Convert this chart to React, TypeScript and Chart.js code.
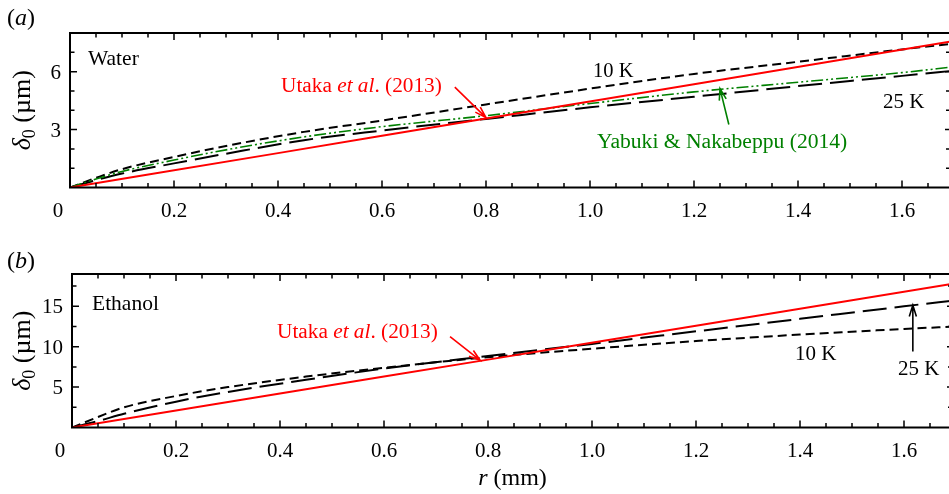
import React, { useEffect, useRef } from 'react';
import { Chart, registerables } from 'chart.js';

Chart.register(...registerables);

// ---------- data ----------
const X_MAX = 1.7;
const rGrid = [0, 0.05, 0.1, 0.2, 0.3, 0.45, 0.6, 0.8, 1.0, 1.2, 1.4, 1.6, 1.7];

// (a) Water
const water10K = [0, 0.5, 0.95, 1.58, 2.15, 2.88, 3.47, 4.3, 5.12, 5.88, 6.51, 7.15, 7.45];
const water25K = [0, 0.38, 0.72, 1.25, 1.75, 2.45, 2.95, 3.55, 4.15, 4.7, 5.25, 5.78, 6.05];
const waterYabuki = [0, 0.44, 0.83, 1.42, 1.95, 2.62, 3.15, 3.72, 4.35, 4.95, 5.45, 5.95, 6.25];
const rUtaka = [0, 0.4, 0.8, 1.2, 1.7];
const waterUtaka = [0, 1.78, 3.57, 5.35, 7.58];

// (b) Ethanol
const ethanol10K = [0, 1.3, 2.5, 3.9, 5.0, 6.3, 7.4, 8.7, 9.75, 10.7, 11.5, 12.2, 12.5];
const ethanol25K = [0, 0.8, 1.7, 3.2, 4.4, 5.9, 7.3, 8.85, 10.35, 11.9, 13.45, 15.0, 15.75];
const ethanolUtaka = [0, 4.2, 8.4, 12.6, 17.85];

// ticks
const xTickValues = [0, 0.2, 0.4, 0.6, 0.8, 1.0, 1.2, 1.4, 1.6];
const xTickLabels = ['0', '0.2', '0.4', '0.6', '0.8', '1.0', '1.2', '1.4', '1.6'];
const waterYTicks = [3, 6];
const ethanolYTicks = [5, 10, 15];

const RED = 'rgb(255,0,0)';
const GREEN = 'rgb(0,128,0)';
const FONT = '"Liberation Serif", "Times New Roman", serif';

type Part = [string, boolean];

function drawRich(ctx: CanvasRenderingContext2D, x: number, y: number, parts: Part[], size: number, color: string) {
  ctx.save();
  ctx.fillStyle = color;
  ctx.textBaseline = 'alphabetic';
  ctx.textAlign = 'left';
  let cx = x;
  for (const [t, it] of parts) {
    ctx.font = `${it ? 'italic ' : ''}${size}px ${FONT}`;
    ctx.fillText(t, cx, y);
    cx += ctx.measureText(t).width;
  }
  ctx.restore();
}

function drawArrow(ctx: CanvasRenderingContext2D, x1: number, y1: number, x2: number, y2: number, color: string) {
  const ang = Math.atan2(y2 - y1, x2 - x1);
  const hl = 12;
  const ha = 0.3;
  ctx.save();
  ctx.strokeStyle = color;
  ctx.lineWidth = 1.6;
  ctx.beginPath();
  ctx.moveTo(x1, y1);
  ctx.lineTo(x2, y2);
  ctx.moveTo(x2 - hl * Math.cos(ang - ha), y2 - hl * Math.sin(ang - ha));
  ctx.lineTo(x2, y2);
  ctx.lineTo(x2 - hl * Math.cos(ang + ha), y2 - hl * Math.sin(ang + ha));
  ctx.stroke();
  ctx.restore();
}

function series(xs: number[], ys: number[]) {
  return xs.map((x, i) => ({ x, y: ys[i] }));
}

interface PanelSpec {
  yMax: number;
  yMinorStep: number;
  yTicks: number[];
  panelLabel: string;
  panelLabelY: number;
  fluid: string;
  fluidX: number;
  fluidY: number;
  annotate: (ctx: CanvasRenderingContext2D, px: (v: number) => number, py: (v: number) => number) => void;
}

function framePlugin(spec: PanelSpec) {
  return {
    id: 'frame',
    afterDraw(chart: any) {
      const ctx: CanvasRenderingContext2D = chart.ctx;
      const { left, right, top, bottom } = chart.chartArea;
      const xs = chart.scales.x;
      const ys = chart.scales.y;
      const px = (v: number) => xs.getPixelForValue(v);
      const py = (v: number) => ys.getPixelForValue(v);
      ctx.save();
      ctx.strokeStyle = '#000';
      ctx.lineWidth = 2;
      ctx.strokeRect(left, top, right - left, bottom - top);
      ctx.lineWidth = 1.5;
      ctx.beginPath();
      // x ticks every 0.05
      for (let i = 1; i * 0.05 < X_MAX - 1e-6; i++) {
        const v = i * 0.05;
        const major = Math.abs(v / 0.2 - Math.round(v / 0.2)) < 1e-6;
        const len = major ? 7 : 4.5;
        const x = px(v);
        ctx.moveTo(x, bottom);
        ctx.lineTo(x, bottom - len);
        ctx.moveTo(x, top);
        ctx.lineTo(x, top + len);
      }
      // y ticks
      for (let i = 1; i * spec.yMinorStep < spec.yMax - 1e-6; i++) {
        const v = i * spec.yMinorStep;
        const major = spec.yTicks.some((t) => Math.abs(t - v) < 1e-6);
        const len = major ? 7 : 4.5;
        const y = py(v);
        ctx.moveTo(left, y);
        ctx.lineTo(left + len, y);
        ctx.moveTo(right, y);
        ctx.lineTo(right - (major ? 9 : 8), y);
      }
      ctx.stroke();

      // tick labels
      ctx.fillStyle = '#000';
      ctx.font = `21px ${FONT}`;
      ctx.textBaseline = 'alphabetic';
      ctx.textAlign = 'center';
      xTickValues.forEach((v, i) => {
        const x = px(v) - (v === 0 ? 12 : 0);
        ctx.fillText(xTickLabels[i], x, bottom + 29);
      });
      ctx.textAlign = 'right';
      spec.yTicks.forEach((v) => {
        ctx.fillText(String(v), left - 9, py(v) + 7);
      });

      // y title
      ctx.save();
      const cy = (top + bottom) / 2;
      ctx.translate(22, cy);
      ctx.rotate(-Math.PI / 2);
      const p1 = 'δ';
      const p2 = '0';
      const p3 = ' (µm)';
      const big = 26;
      const small = 18;
      ctx.font = `italic ${big}px ${FONT}`;
      const w1 = ctx.measureText(p1).width;
      ctx.font = `${small}px ${FONT}`;
      const w2 = ctx.measureText(p2).width;
      ctx.font = `${big}px ${FONT}`;
      const w3 = ctx.measureText(p3).width;
      const total = w1 + w2 + w3;
      let sx = -total / 2;
      ctx.textAlign = 'left';
      ctx.font = `italic ${big}px ${FONT}`;
      ctx.fillText(p1, sx, 8);
      sx += w1;
      ctx.font = `${small}px ${FONT}`;
      ctx.fillText(p2, sx, 13);
      sx += w2;
      ctx.font = `${big}px ${FONT}`;
      ctx.fillText(p3, sx, 8);
      ctx.restore();

      // panel label
      drawRich(ctx, 7, spec.panelLabelY, [['(', false], [spec.panelLabel, true], [')', false]], 24, '#000');
      // fluid name
      drawRich(ctx, spec.fluidX, spec.fluidY, [[spec.fluid, false]], 21.5, '#000');

      spec.annotate(ctx, px, py);
      ctx.restore();
    },
  };
}

function makeChart(canvas: HTMLCanvasElement, datasets: any[], spec: PanelSpec, padding: any) {
  return new Chart(canvas, {
    type: 'line',
    data: { datasets },
    options: {
      responsive: false,
      animation: false,
      devicePixelRatio: 1,
      layout: { padding },
      plugins: { legend: { display: false }, tooltip: { enabled: false } },
      elements: { point: { radius: 0 } },
      scales: {
        x: { type: 'linear', min: 0, max: X_MAX, display: false },
        y: { type: 'linear', min: 0, max: spec.yMax, display: false },
      },
    },
    plugins: [framePlugin(spec)],
  } as any);
}

const dash10 = [9, 5];
const dash25 = [24, 8];
const dashYabuki = [12, 3, 2, 3, 2, 3];

export default function App() {
  const refA = useRef<HTMLCanvasElement>(null);
  const refB = useRef<HTMLCanvasElement>(null);

  useEffect(() => {
    const common = { pointRadius: 0, fill: false, cubicInterpolationMode: 'monotone' };
    const specA: PanelSpec = {
      yMax: 8,
      yMinorStep: 1,
      yTicks: waterYTicks,
      panelLabel: 'a',
      panelLabelY: 25,
      fluid: 'Water',
      fluidX: 88,
      fluidY: 65,
      annotate: (ctx, px, py) => {
        drawRich(ctx, 593, 77, [['10 K', false]], 20.5, '#000');
        drawRich(ctx, 281, 92, [['Utaka ', false], ['et al', true], ['. (2013)', false]], 21.3, RED);
        drawArrow(ctx, px(0.74), py(5.2), px(0.8), py(3.62), RED);
        drawRich(ctx, 597, 148, [['Yabuki & Nakabeppu (2014)', false]], 21.6, GREEN);
        drawArrow(ctx, px(1.267), py(3.26), px(1.25), py(5.12), GREEN);
        drawRich(ctx, 883, 108, [['25 K', false]], 21, '#000');
      },
    };
    const chartA = makeChart(
      refA.current!,
      [
        { ...common, data: series(rUtaka, waterUtaka), borderColor: RED, borderWidth: 2 },
        { ...common, data: series(rGrid, waterYabuki), borderColor: GREEN, borderWidth: 1.6, borderDash: dashYabuki },
        { ...common, data: series(rGrid, water25K), borderColor: '#000', borderWidth: 2, borderDash: dash25 },
        { ...common, data: series(rGrid, water10K), borderColor: '#000', borderWidth: 2, borderDash: dash10 },
      ],
      specA,
      { left: 70, top: 33, right: 6, bottom: 59.5 }
    );

    const specB: PanelSpec = {
      yMax: 19,
      yMinorStep: 2.5,
      yTicks: ethanolYTicks,
      panelLabel: 'b',
      panelLabelY: 21,
      fluid: 'Ethanol',
      fluidX: 92,
      fluidY: 63,
      annotate: (ctx, px, py) => {
        drawRich(ctx, 277, 91, [['Utaka ', false], ['et al', true], ['. (2013)', false]], 21.3, RED);
        drawArrow(ctx, px(0.727), py(11.24), px(0.785), py(8.3), RED);
        drawRich(ctx, 795, 113, [['10 K', false]], 21, '#000');
        drawRich(ctx, 898, 128, [['25 K', false]], 21, '#000');
        drawArrow(ctx, px(1.617), py(9.4), px(1.617), py(15.15), '#000');
      },
    };
    const chartB = makeChart(
      refB.current!,
      [
        { ...common, data: series(rUtaka, ethanolUtaka), borderColor: RED, borderWidth: 2 },
        { ...common, data: series(rGrid, ethanol25K), borderColor: '#000', borderWidth: 2, borderDash: dash25 },
        { ...common, data: series(rGrid, ethanol10K), borderColor: '#000', borderWidth: 2, borderDash: dash10 },
      ],
      specB,
      { left: 72, top: 27, right: 4, bottom: 66.5 }
    );

    return () => {
      chartA.destroy();
      chartB.destroy();
    };
  }, []);

  return (
    <div
      style={{
        position: 'absolute',
        left: 0,
        top: 0,
        width: 949,
        height: 494,
        overflow: 'hidden',
        background: '#fff',
      }}
    >
      <div style={{ position: 'absolute', left: 0, top: 0 }}>
        <canvas ref={refA} width={960} height={247} style={{ display: 'block' }} />
      </div>
      <div style={{ position: 'absolute', left: 0, top: 247 }}>
        <canvas ref={refB} width={960} height={247} style={{ display: 'block' }} />
      </div>
      {/* r (mm) axis title */}
      <div
        style={{
          position: 'absolute',
          left: 0,
          width: 1025,
          top: 464,
          textAlign: 'center',
          font: `24px ${FONT}`,
          color: '#000',
          lineHeight: '26px',
        }}
      >
        <i>r</i> (mm)
      </div>
    </div>
  );
}
